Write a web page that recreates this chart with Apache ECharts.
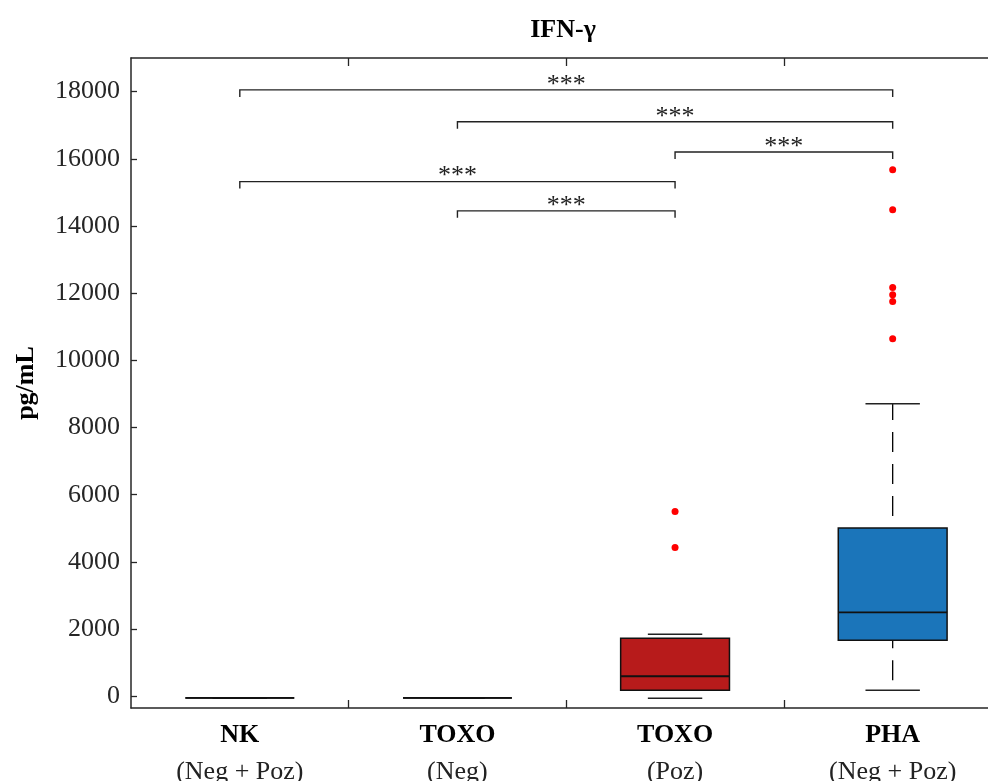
<!DOCTYPE html>
<html>
<head>
<meta charset="utf-8">
<script src="https://cdn.jsdelivr.net/npm/echarts@6/dist/echarts.min.js"></script>
<style>
  html, body { margin: 0; padding: 0; background: #ffffff; }
  #chart { width: 988px; height: 781px; }
</style>
</head>
<body>
<div id="chart"></div>
<script>
// ---- data ----
const groupNames = ['NK', 'TOXO', 'TOXO', 'PHA'];
const groupSubs = ['(Neg + Poz)', '(Neg)', '(Poz)', '(Neg + Poz)'];
const groupPositions = [1, 2, 3, 4];
const groupDividers = [1.5, 2.5, 3.5];
// [min whisker, q1, median, q3, max whisker]
const boxNK = [-50, -50, -50, -50, -50];
const boxToxoNeg = [-50, -50, -50, -50, -50];
const boxToxoPoz = [-60, 180, 595, 1727, 1845];
const boxPHA = [179, 1666, 2499, 5009, 8709];
const outliersToxoPoz = [5500, 4430];
const outliersPHA = [15670, 14480, 12170, 11950, 11750, 10640];
// [from group, to group, height]
const brackets = [[1, 4, 18050], [2, 4, 17100], [3, 4, 16200], [1, 3, 15320], [2, 3, 14450]];
const bracketLabels = ['***', '***', '***', '***', '***'];
const yTicks = [0, 2000, 4000, 6000, 8000, 10000, 12000, 14000, 16000, 18000];
const boxColors = ['#D9D9D9', '#D9D9D9', '#B71B1B', '#1B75BA'];

// ---- build ----
const boxes = [boxNK, boxToxoNeg, boxToxoPoz, boxPHA];
const boxData = boxes.map((b, i) => [groupPositions[i]].concat(b));
const outlierData = []
  .concat(outliersToxoPoz.map(v => [groupPositions[2], v]))
  .concat(outliersPHA.map(v => [groupPositions[3], v]));

const FONT = '"Liberation Serif", "DejaVu Serif", serif';
const AX = '#262626';

const chart = echarts.init(document.getElementById('chart'), null, { renderer: 'canvas' });

function renderBox(params, api) {
  const pos = api.value(0);
  const lo = api.value(1), q1 = api.value(2), med = api.value(3), q3 = api.value(4), hi = api.value(5);
  const band = api.size([1, 0])[0];
  const cx = api.coord([pos, med])[0];
  const hw = band * 0.25;
  const cw = band * 0.125;
  const yLo = api.coord([pos, lo])[1];
  const yQ1 = api.coord([pos, q1])[1];
  const yMed = api.coord([pos, med])[1];
  const yQ3 = api.coord([pos, q3])[1];
  const yHi = api.coord([pos, hi])[1];
  const color = boxColors[params.dataIndex];
  const children = [];
  if (yQ3 - yHi > 0.5) {
    children.push({ type: 'line', shape: { x1: cx, y1: yQ3, x2: cx, y2: yHi },
      style: { stroke: '#000', lineWidth: 1.3, lineDash: [20, 12], lineDashOffset: 20 } });
  }
  if (yLo - yQ1 > 0.5) {
    children.push({ type: 'line', shape: { x1: cx, y1: yLo, x2: cx, y2: yQ1 },
      style: { stroke: '#000', lineWidth: 1.3, lineDash: [20, 12], lineDashOffset: 22 } });
  }
  children.push({ type: 'line', shape: { x1: cx - cw, y1: yHi, x2: cx + cw, y2: yHi },
    style: { stroke: '#222', lineWidth: 1.5 } });
  children.push({ type: 'line', shape: { x1: cx - cw, y1: yLo, x2: cx + cw, y2: yLo },
    style: { stroke: '#222', lineWidth: 1.5 } });
  children.push({ type: 'rect', shape: { x: cx - hw, y: yQ3, width: 2 * hw, height: yQ1 - yQ3 },
    style: { fill: color, stroke: '#111', lineWidth: 1.5 } });
  children.push({ type: 'line', shape: { x1: cx - hw, y1: yMed, x2: cx + hw, y2: yMed },
    style: { stroke: '#111', lineWidth: 1.8 } });
  return { type: 'group', children: children };
}

function renderBracket(params, api) {
  const a = api.value(0), b = api.value(1), h = api.value(2);
  const p1 = api.coord([a, h]);
  const p2 = api.coord([b, h]);
  const drop = 7;
  const lbl = bracketLabels[params.dataIndex];
  return {
    type: 'group',
    children: [
      { type: 'polyline', shape: { points: [[p1[0], p1[1] + drop], [p1[0], p1[1]], [p2[0], p2[1]], [p2[0], p2[1] + drop]] },
        style: { stroke: '#222', lineWidth: 1.4, fill: null } },
      { type: 'text', x: (p1[0] + p2[0]) / 2, y: p1[1] - 5,
        style: { text: lbl, font: '26px ' + FONT, fill: '#222', textAlign: 'center', textVerticalAlign: 'middle' } }
    ]
  };
}

const option = {
  backgroundColor: '#ffffff',
  animation: false,
  title: {
    text: 'IFN-\u03b3',
    left: 558, top: 12, textAlign: 'center',
    textStyle: { fontFamily: FONT, fontWeight: 'bold', fontSize: 26, color: '#000' }
  },
  grid: { left: 131, top: 58, right: 0, bottom: 73, containLabel: false, outerBoundsMode: 'none' },
  xAxis: [
    {
      type: 'value', min: 0.5, max: 4.438, position: 'bottom',
      axisLine: { show: true, onZero: false, lineStyle: { color: AX, width: 1.5 } },
      axisTick: { show: true, inside: true, length: 8, customValues: groupDividers, lineStyle: { color: AX, width: 1.3 } },
      axisLabel: {
        margin: 9,
        customValues: groupPositions,
        formatter: function (v) {
          const i = groupPositions.indexOf(v);
          return i < 0 ? '' : '{b|' + groupNames[i] + '}\n{n|' + groupSubs[i] + '}';
        },
        rich: {
          b: { fontFamily: FONT, fontWeight: 'bold', fontSize: 26, color: '#000', lineHeight: 37 },
          n: { fontFamily: FONT, fontSize: 26, color: '#222', lineHeight: 37 }
        }
      },
      splitLine: { show: false }
    },
    {
      type: 'value', min: 0.5, max: 4.438, position: 'top',
      axisLine: { show: true, onZero: false, lineStyle: { color: AX, width: 1.5 } },
      axisTick: { show: true, inside: true, length: 8, customValues: groupDividers, lineStyle: { color: AX, width: 1.3 } },
      axisLabel: { show: false },
      splitLine: { show: false }
    }
  ],
  yAxis: [
    {
      type: 'value', min: -350, max: 19000, position: 'left',
      name: 'pg/mL', nameLocation: 'middle', nameRotate: 90, nameGap: 92,
      nameTextStyle: { fontFamily: FONT, fontWeight: 'bold', fontSize: 26, color: '#000' },
      axisLine: { show: true, onZero: false, lineStyle: { color: AX, width: 1.5 } },
      axisTick: { show: true, inside: true, length: 6, customValues: yTicks, lineStyle: { color: AX, width: 1.3 } },
      axisLabel: { customValues: yTicks, margin: 11, fontFamily: FONT, fontSize: 26, color: AX,
        formatter: function (v) { return String(v); } },
      splitLine: { show: false }
    }
  ],
  series: [
    {
      type: 'custom', name: 'box', xAxisIndex: 0, yAxisIndex: 0,
      renderItem: renderBox, data: boxData,
      encode: { x: 0, y: [1, 2, 3, 4, 5] }, clip: false, z: 3
    },
    {
      type: 'scatter', name: 'outliers', xAxisIndex: 0, yAxisIndex: 0,
      data: outlierData, symbol: 'circle', symbolSize: 7,
      itemStyle: { color: '#FF0000', opacity: 1 }, z: 4
    },
    {
      type: 'custom', name: 'brackets', xAxisIndex: 0, yAxisIndex: 0,
      renderItem: renderBracket, data: brackets,
      encode: { x: [0, 1], y: 2 }, clip: false, z: 5
    }
  ]
};
chart.setOption(option);
</script>
</body>
</html>
